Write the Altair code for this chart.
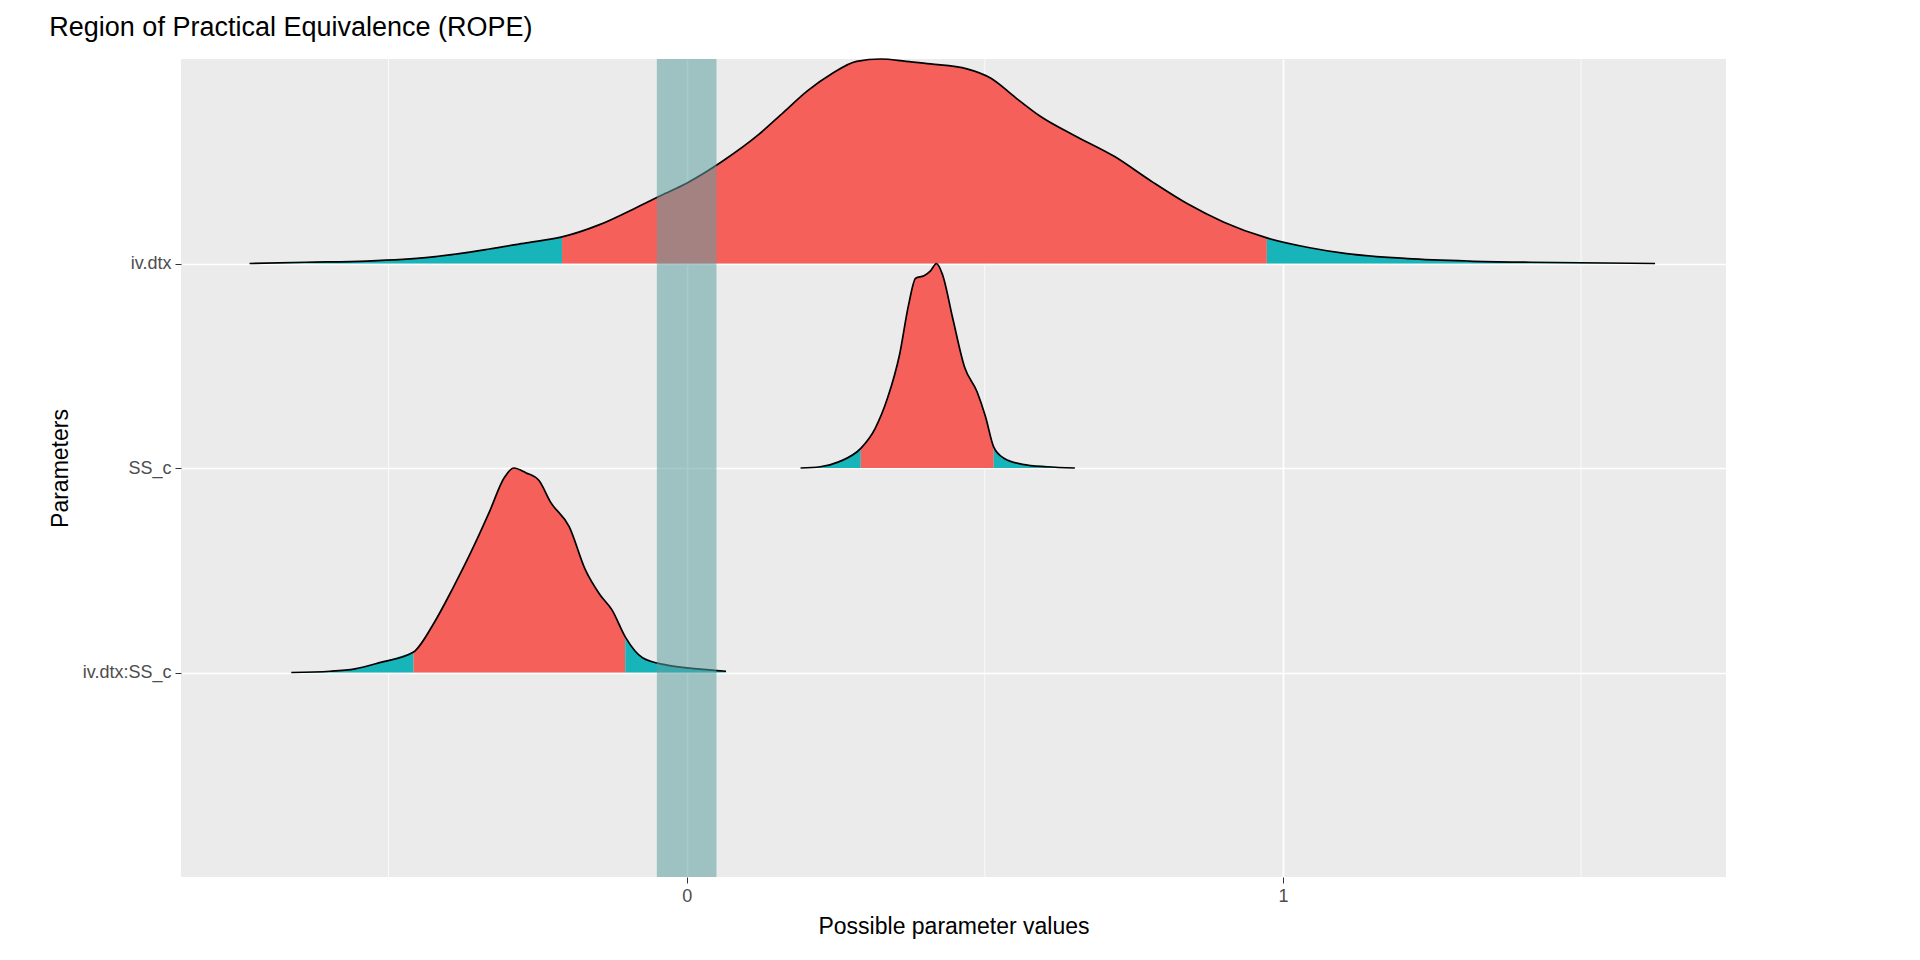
import altair as alt
import pandas as pd

# density curves (x value, relative height)
params = ['iv.dtx', 'SS_c', 'iv.dtx:SS_c']
offsets = [3, 2, 1]

dtx_x = [-0.733, -0.639, -0.536, -0.433, -0.331, -0.269, -0.209, -0.146, -0.084, -0.043, 0.0, 0.06,
         0.121, 0.162, 0.203, 0.244, 0.285, 0.326, 0.368, 0.409, 0.47, 0.511, 0.552, 0.593, 0.655,
         0.717, 0.778, 0.84, 0.901, 0.973, 1.045, 1.107, 1.209, 1.312, 1.415, 1.624]
dtx_h = [0, 0.006, 0.012, 0.030, 0.071, 0.101, 0.13, 0.19, 0.274, 0.333, 0.393, 0.50,
         0.631, 0.738, 0.845, 0.929, 0.988, 1.0, 0.988, 0.976, 0.952, 0.905, 0.81, 0.72, 0.619,
         0.524, 0.405, 0.292, 0.202, 0.125, 0.077, 0.048, 0.024, 0.012, 0.006, 0]
dtx_ci = (6, 29)  # index of 95% interval bounds

ss_x = [0.191, 0.224, 0.255, 0.292, 0.316, 0.337, 0.357, 0.372, 0.384, 0.398, 0.409, 0.419,
        0.429, 0.446, 0.466, 0.487, 0.501, 0.515, 0.532, 0.563, 0.604, 0.651]
ss_h = [0, 0.006, 0.03, 0.096, 0.193, 0.343, 0.554, 0.795, 0.928, 0.94, 0.964, 1.0,
        0.946, 0.735, 0.494, 0.373, 0.253, 0.102, 0.048, 0.018, 0.006, 0]
ss_ci = (3, 17)

int_x = [-0.663, -0.598, -0.556, -0.515, -0.458, -0.423, -0.392, -0.361, -0.331, -0.306, -0.29,
         -0.269, -0.248, -0.228, -0.197, -0.17, -0.146, -0.125, -0.103, -0.074, -0.033, 0.018, 0.066]
int_h = [0, 0.006, 0.018, 0.048, 0.10, 0.246, 0.413, 0.593, 0.784, 0.952, 1.0,
         0.976, 0.94, 0.832, 0.713, 0.503, 0.383, 0.305, 0.174, 0.072, 0.036, 0.018, 0.006]
int_ci = (4, 18)

rope = [-0.05, 0.05]
minor_x = [-0.5, 0.5, 1.5]

rows = []
lines = []
for p, off, xs, hs, (a, b) in zip(params, offsets, [dtx_x, ss_x, int_x], [dtx_h, ss_h, int_h],
                                  [dtx_ci, ss_ci, int_ci]):
    segs = [('100%', 0, a), ('95%', a, b), ('100%', b, len(xs) - 1)]
    for k, (ci, i0, i1) in enumerate(segs):
        for i in range(i0, i1 + 1):
            rows.append({'param': p, 'grp': f'{p}-{k}', 'CI': ci, 'x': xs[i],
                         'y': off + hs[i], 'y0': off})
    for i in range(len(xs)):
        lines.append({'param': p, 'x': xs[i], 'y': off + hs[i]})
df = pd.DataFrame(rows)
ldf = pd.DataFrame(lines)

W, H = 1545, 818
xscale = alt.Scale(domain=[-0.848, 1.743], nice=False, zero=False)
yscale = alt.Scale(domain=[0, 4], nice=False, zero=False)
label_expr = "datum.value == 3 ? 'iv.dtx' : datum.value == 2 ? 'SS_c' : 'iv.dtx:SS_c'"

minor = alt.Chart(pd.DataFrame({'x': minor_x})).mark_rule(color='white', strokeWidth=0.8).encode(
    x=alt.X('x:Q', scale=xscale))

areas = alt.Chart(df).mark_area(opacity=1, interpolate='monotone').encode(
    x=alt.X('x:Q', scale=xscale, title='Possible parameter values',
            axis=alt.Axis(values=[0, 1], format='d', gridColor='white', gridWidth=1.7,
                          tickColor='#333333', domain=False)),
    y=alt.Y('y:Q', scale=yscale, stack=None, title='Parameters',
            axis=alt.Axis(values=[1, 2, 3], labelExpr=label_expr, gridColor='white', gridWidth=1.7,
                          tickColor='#333333', domain=False)),
    y2='y0:Q',
    detail='grp:N',
    color=alt.Color('CI:N', scale=alt.Scale(domain=['95%', '100%'], range=['#F5605B', '#17B5BA']),
                    legend=alt.Legend(orient='none', legendX=1590, legendY=372, symbolType='square',
                                      symbolSize=1050, symbolStrokeColor='black', symbolStrokeWidth=1.2,
                                      symbolOpacity=1, titleFontSize=23, titleFontWeight='normal',
                                      labelFontSize=18, rowPadding=6, titlePadding=12)),
)

outline = alt.Chart(ldf).mark_line(color='black', strokeWidth=1.7, interpolate='monotone').encode(
    x=alt.X('x:Q', scale=xscale), y=alt.Y('y:Q', scale=yscale), detail='param:N')

rope_band = alt.Chart(pd.DataFrame({'lo': [rope[0]], 'hi': [rope[1]]})).mark_rect(
    color='#5f9ea0', opacity=0.55).encode(
    x=alt.X('lo:Q', scale=xscale), x2='hi:Q', y=alt.value(0), y2=alt.value(H))

chart = alt.layer(minor, areas, outline, rope_band).properties(
    width=W, height=H,
    autosize=alt.AutoSizeParams(type='none'),
    padding={'left': 173, 'top': 51, 'right': 10, 'bottom': 70},
    title=alt.TitleParams('Region of Practical Equivalence (ROPE)', anchor='start', fontSize=27,
                          fontWeight='normal', color='black', offset=14),
).configure(font='Liberation Sans').configure_view(fill='#EBEBEB', strokeWidth=0).configure_axis(
    labelFontSize=18, labelColor='#4d4d4d', titleFontSize=23, titleFontWeight='normal',
    titleColor='black', tickSize=6, labelPadding=4, titlePadding=10)

chart.save("out.html", embed_options={"renderer": "svg", "actions": False})
